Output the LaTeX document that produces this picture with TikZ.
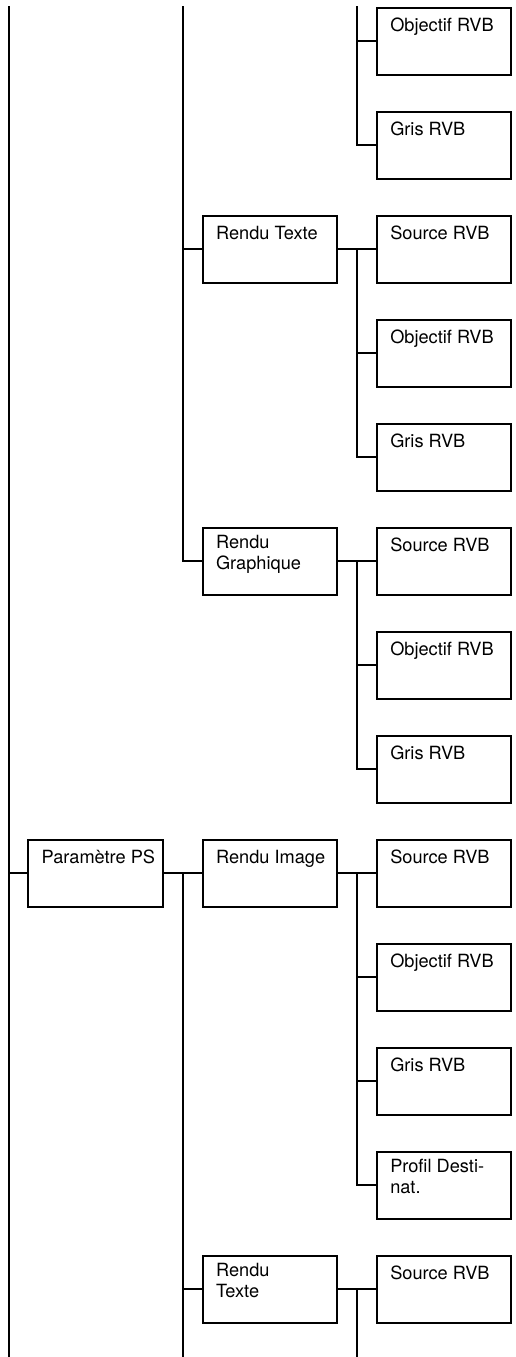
\documentclass[tikz,border=0pt]{standalone}
\usepackage{fontspec}
\setmainfont{TeX Gyre Heros}
\usepackage{tikz}
\usetikzlibrary{positioning, calc}

\begin{document}
\begin{tikzpicture}[x=0.5pt, y=-0.5pt, line width=1pt,
      txt/.style={anchor=north west, xshift=6.65pt, yshift=-3.65pt,
                  inner sep=0pt, align=left,
                  execute at begin node={\rule{0pt}{8pt}},
                  font=\fontsize{9.1}{10.5}\selectfont},
      box/.style={draw, minimum width=67.25pt, minimum height=33.5pt,
                  inner sep=0pt, label={[txt]north west:#1}}]
    \useasboundingbox (0,0) rectangle (515,1357);
    \coordinate (l0) at (8.7,6);
    \coordinate (m0) at (183,6);
    \coordinate (r0) at (357,6);
    \coordinate (bot) at (0,1357);
    \node[box={Objectif RVB}] (o1) at (444.2,41.2) {};
    \node[box={Gris RVB}] (g1) at (444.2,145.2) {};
    \node[box={Rendu Texte}] (rt1) at (270,249.2) {};
    \node[box={Source RVB}] (s2) at (444.2,249.2) {};
    \node[box={Objectif RVB}] (o2) at (444.2,353.2) {};
    \node[box={Gris RVB}] (g2) at (444.2,457.2) {};
    \node[box={Rendu\\Graphique}] (rg) at (270,561.2) {};
    \node[box={Source RVB}] (s3) at (444.2,561.2) {};
    \node[box={Objectif RVB}] (o3) at (444.2,665.2) {};
    \node[box={Gris RVB}] (g3) at (444.2,769.2) {};
    \node[box={Paramètre PS}] (ps) at (95.7,873.2) {};
    \node[box={Rendu Image}] (ri) at (270,873.2) {};
    \node[box={Source RVB}] (s4) at (444.2,873.2) {};
    \node[box={Objectif RVB}] (o4) at (444.2,977.2) {};
    \node[box={Gris RVB}] (g4) at (444.2,1081.2) {};
    \node[box={Profil Desti-\\nat.}] (p4) at (444.2,1185.2) {};
    \node[box={Rendu\\Texte}] (rt2) at (270,1289.2) {};
    \node[box={Source RVB}] (s5) at (444.2,1289.2) {};
    \draw (l0)--(l0 |- bot); \draw (ps.west)--(ps.west -| l0);
    \draw (m0) |- (rg.west); \draw (rt1.west)--(rt1.west -| m0);
    \draw (ps.east)--(ri.west); \draw (ps.east -| m0)--(m0 |- bot);
    \draw (rt2.west)--(rt2.west -| m0);
    \draw (r0) |- (g1.west); \draw (o1.west)--(o1.west -| r0);
    \draw (rt1.east)--(s2.west); \draw (rt1.east -| r0) |- (g2.west);
    \draw (o2.west)--(o2.west -| r0);
    \draw (rg.east)--(s3.west); \draw (rg.east -| r0) |- (g3.west);
    \draw (o3.west)--(o3.west -| r0);
    \draw (ri.east)--(s4.west); \draw (ri.east -| r0) |- (p4.west);
    \draw (o4.west)--(o4.west -| r0); \draw (g4.west)--(g4.west -| r0);
    \draw (rt2.east)--(s5.west); \draw (rt2.east -| r0)--(r0 |- bot);
  \end{tikzpicture}
\end{document}
